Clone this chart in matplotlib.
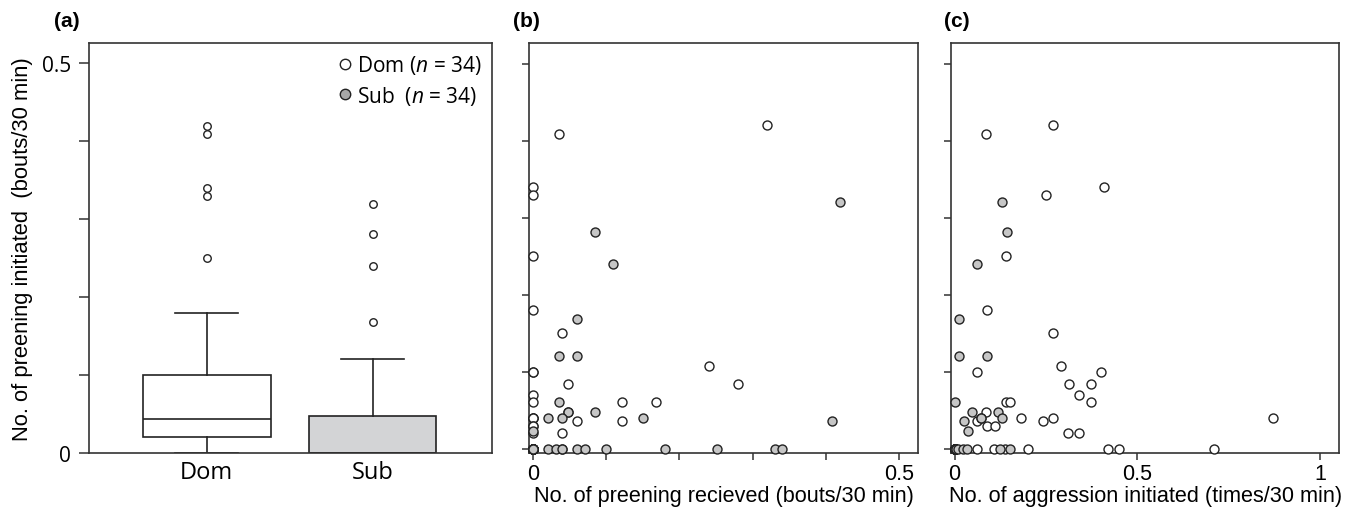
import matplotlib
matplotlib.use('Agg')
import matplotlib.pyplot as plt
from matplotlib.lines import Line2D

plt.rcParams['font.family'] = ['Liberation Sans', 'DejaVu Sans']
plt.rcParams['mathtext.fontset'] = 'custom'
plt.rcParams['mathtext.rm'] = 'Open Sans'
plt.rcParams['mathtext.it'] = 'Open Sans:italic'

# ---------------- data ----------------
groups = ['Dom', 'Sub']
box_q1 = [0.020, 0.0]
box_med = [0.044, 0.0]
box_q3 = [0.100, 0.048]
whisk_lo = [0.0, 0.0]
whisk_hi = [0.180, 0.120]
dom_fliers = [0.420, 0.409, 0.340, 0.330, 0.250]
sub_fliers = [0.320, 0.281, 0.240, 0.168]

dom_initiated = [0.420, 0.409, 0.340, 0.330, 0.250, 0.180, 0.150, 0.108, 0.100, 0.100,
                 0.084, 0.084, 0.070, 0.060, 0.060, 0.060, 0.048, 0.040, 0.040, 0.040,
                 0.036, 0.036, 0.030, 0.030, 0.020, 0.020,
                 0.0, 0.0, 0.0, 0.0, 0.0, 0.0, 0.0, 0.0]
dom_received = [0.319, 0.036, 0.0, 0.0, 0.0, 0.0, 0.040, 0.240, 0.0, 0.0,
                0.048, 0.280, 0.0, 0.0, 0.121, 0.168, 0.048, 0.0, 0.0, 0.0,
                0.060, 0.121, 0.0, 0.0, 0.040, 0.0,
                0.0, 0.0, 0.0, 0.0, 0.0, 0.0, 0.0, 0.040]
dom_aggression = [0.270, 0.086, 0.410, 0.250, 0.141, 0.090, 0.270, 0.290, 0.061, 0.400,
                  0.314, 0.373, 0.341, 0.373, 0.141, 0.151, 0.086, 0.870, 0.181, 0.270,
                  0.061, 0.241, 0.090, 0.111, 0.311, 0.341,
                  0.0, 0.060, 0.109, 0.138, 0.200, 0.421, 0.451, 0.709]

sub_initiated = [0.320, 0.281, 0.240, 0.168, 0.120, 0.120, 0.060, 0.048, 0.048, 0.040,
                 0.040, 0.040, 0.036, 0.023,
                 0.0, 0.0, 0.0, 0.0, 0.0, 0.0, 0.0, 0.0, 0.0, 0.0,
                 0.0, 0.0, 0.0, 0.0, 0.0, 0.0, 0.0, 0.0, 0.0, 0.0]
sub_received = [0.419, 0.085, 0.109, 0.060, 0.036, 0.060, 0.036, 0.048, 0.085, 0.021,
                0.040, 0.150, 0.408, 0.0,
                0.0, 0.0, 0.0, 0.0, 0.0, 0.0, 0.0, 0.0, 0.0, 0.0,
                0.021, 0.031, 0.040, 0.060, 0.071, 0.100, 0.180, 0.251, 0.330, 0.340]
sub_aggression = [0.130, 0.144, 0.061, 0.013, 0.013, 0.090, 0.002, 0.048, 0.120, 0.072,
                  0.130, 0.072, 0.025, 0.037,
                  0.0, 0.0, 0.0, 0.0, 0.0, 0.0, 0.0, 0.0, 0.0, 0.0,
                  0.0, 0.0, 0.0, 0.0, 0.005, 0.010, 0.023, 0.033, 0.124, 0.151]

legend_labels = ['Dom ($\\it{n}$ = 34)', 'Sub  ($\\it{n}$ = 34)']
xlabel_b = 'No. of preening recieved (bouts/30 min)'
xlabel_c = 'No. of aggression initiated (times/30 min)'
ylabel_a = 'No. of preening initiated  (bouts/30 min)'

# ---------------- style ----------------
EDGE = '#222222'
SPINE = '#333333'
SUB_BOX = '#d3d4d6'
SUB_PT = '#c6c6c6'

fig = plt.figure(figsize=(13.54, 5.10), dpi=100)
ax_a = fig.add_axes([0.0657, 0.1098, 0.2976, 0.804])
ax_b = fig.add_axes([0.3909, 0.1098, 0.2869, 0.804])
ax_c = fig.add_axes([0.7026, 0.1098, 0.2866, 0.804])

for ax in (ax_a, ax_b, ax_c):
    for s in ax.spines.values():
        s.set_color(SPINE)
        s.set_linewidth(1.2)

# ---------------- panel a ----------------
fliers = [dom_fliers, sub_fliers]
stats = []
for i, g in enumerate(groups):
    stats.append(dict(label=g, q1=box_q1[i], med=box_med[i], q3=box_q3[i],
                      whislo=whisk_lo[i], whishi=whisk_hi[i], fliers=fliers[i]))
bp = ax_a.bxp(stats, positions=[1, 2], widths=0.77, capwidths=0.38,
              patch_artist=True, showfliers=True,
              boxprops=dict(edgecolor=EDGE, linewidth=1.2),
              medianprops=dict(color=EDGE, linewidth=1.2),
              whiskerprops=dict(color=EDGE, linewidth=1.2),
              capprops=dict(color=EDGE, linewidth=1.2),
              flierprops=dict(marker='o', markersize=5.4, markerfacecolor='white',
                              markeredgecolor=EDGE, markeredgewidth=1.0))
bp['boxes'][0].set_facecolor('white')
bp['boxes'][1].set_facecolor(SUB_BOX)
ax_a.set_xlim(0.29, 2.72)
ax_a.set_ylim(0, 0.526)
ax_a.set_yticks([0, 0.1, 0.2, 0.3, 0.4, 0.5])
ax_a.set_yticklabels(['0', '', '', '', '', '0.5'], fontsize=15, family='Open Sans')
ax_a.tick_params(axis='y', direction='out', length=7, width=1.1, color=SPINE, pad=6)
ax_a.tick_params(axis='x', length=0, pad=5)
ax_a.set_xticks([1, 2])
ax_a.set_xticklabels(groups, fontsize=17, family='Open Sans')
ax_a.set_ylabel(ylabel_a, fontsize=15.8, labelpad=6)

handles = [Line2D([], [], marker='o', linestyle='none', markersize=7.5,
                  markerfacecolor='white', markeredgecolor=EDGE, markeredgewidth=1.0),
           Line2D([], [], marker='o', linestyle='none', markersize=7.5,
                  markerfacecolor='#a8a8a8', markeredgecolor=EDGE, markeredgewidth=1.0)]
leg = ax_a.legend(handles, legend_labels, loc='upper right', frameon=False,
                  prop={'family': 'Open Sans', 'size': 15},
                  handletextpad=0.15, handlelength=0.8, labelspacing=0.35,
                  borderaxespad=0.25, borderpad=0.25)

# ---------------- panel b ----------------
ax_b.scatter(dom_received, dom_initiated, s=42, facecolor='white', edgecolor=EDGE,
             linewidths=1.0, clip_on=False, zorder=3)
ax_b.scatter(sub_received, sub_initiated, s=42, facecolor=SUB_PT, edgecolor=EDGE,
             linewidths=1.0, clip_on=False, zorder=4)
ax_b.set_xlim(-0.005, 0.5255)
ax_b.set_ylim(-0.0056, 0.527)
ax_b.set_xticks([0, 0.1, 0.2, 0.3, 0.4, 0.5])
ax_b.set_xticklabels(['0', '', '', '', '', '0.5'], fontsize=15.5)
ax_b.set_yticks([0, 0.1, 0.2, 0.3, 0.4, 0.5])
ax_b.set_yticklabels([])
ax_b.tick_params(direction='out', length=5, width=1.1, color=SPINE, pad=2)
ax_b.set_xlabel(xlabel_b, fontsize=15.6, labelpad=1)

# ---------------- panel c ----------------
ax_c.scatter(dom_aggression, dom_initiated, s=42, facecolor='white', edgecolor=EDGE,
             linewidths=1.0, clip_on=False, zorder=3)
ax_c.scatter(sub_aggression, sub_initiated, s=42, facecolor=SUB_PT, edgecolor=EDGE,
             linewidths=1.0, clip_on=False, zorder=4)
ax_c.set_xlim(-0.009, 1.053)
ax_c.set_ylim(-0.0056, 0.527)
ax_c.set_xticks([0, 0.5, 1])
ax_c.set_xticklabels(['0', '0.5', '1'], fontsize=15.5)
ax_c.set_yticks([0, 0.1, 0.2, 0.3, 0.4, 0.5])
ax_c.set_yticklabels([])
ax_c.tick_params(direction='out', length=5, width=1.1, color=SPINE, pad=2)
ax_c.set_xlabel(xlabel_c, fontsize=15.6, labelpad=1)

# panel labels
for x, lab in [(0.040, '(a)'), (0.379, '(b)'), (0.697, '(c)')]:
    fig.text(x, 0.957, lab, fontsize=15, fontweight='bold', va='center', ha='left')

fig.savefig('out.png', dpi=100)
